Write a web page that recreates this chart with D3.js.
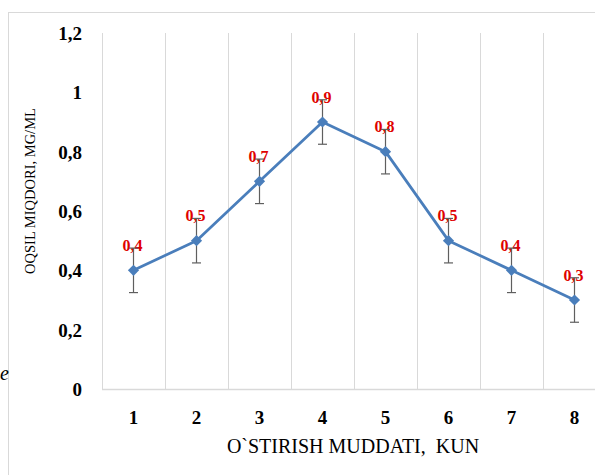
<!DOCTYPE html>
<html>
<head>
<meta charset="utf-8">
<script src="https://cdn.jsdelivr.net/npm/d3@7"></script>
<style>
  html, body { margin: 0; padding: 0; background: #fff; }
  svg { display: block; }
</style>
</head>
<body>
<svg id="chart" width="595" height="475"></svg>
<script>
// Protein content by cultivation day
const days = ["1", "2", "3", "4", "5", "6", "7", "8"];
const values = [0.4, 0.5, 0.7, 0.9, 0.8, 0.5, 0.4, 0.3];
const errors = [0.075, 0.075, 0.075, 0.075, 0.075, 0.075, 0.075, 0.075];
const yTicks = [0, 0.2, 0.4, 0.6, 0.8, 1, 1.2];
const yTickLabels = ["0", "0,2", "0,4", "0,6", "0,8", "1", "1,2"];
const valueLabels = ["0,4", "0,5", "0,7", "0,9", "0,8", "0,5", "0,4", "0,3"];
const xTitle = "O`STIRISH MUDDATI,  KUN";
const yTitle = "OQSIL MIQDORI, MG/ML";

const svg = d3.select("#chart");
const serif = "'Liberation Serif', 'Times New Roman', serif";

// Chart frame
svg.append("rect")
  .attr("x", 8.5).attr("y", 12.5)
  .attr("width", 620).attr("height", 500)
  .attr("fill", "none").attr("stroke", "#d9d9d9").attr("stroke-width", 1);

// Stray glyph at the left edge
svg.append("text")
  .attr("x", 0).attr("y", 380)
  .attr("font-family", serif).attr("font-style", "italic")
  .attr("font-size", 20).attr("fill", "#000")
  .text("e");

const plot = { left: 102, right: 606, top: 33, bottom: 389 };

const x = d3.scaleBand().domain(days).range([plot.left, plot.right]).paddingInner(0).paddingOuter(0);
const y = d3.scaleLinear().domain([0, 1.2]).range([plot.bottom, plot.top]);

// Vertical gridlines at category boundaries
const bounds = days.map(d => x(d)).concat([x(days[days.length - 1]) + x.bandwidth()]);
svg.append("g").selectAll("line").data(bounds).join("line")
  .attr("x1", d => Math.round(d) + 0.5).attr("x2", d => Math.round(d) + 0.5)
  .attr("y1", plot.top).attr("y2", plot.bottom)
  .attr("stroke", "#d9d9d9").attr("stroke-width", 1);

// Category axis line
svg.append("line")
  .attr("x1", plot.left).attr("x2", plot.right)
  .attr("y1", Math.round(y(0)) + 0.5).attr("y2", Math.round(y(0)) + 0.5)
  .attr("stroke", "#d9d9d9").attr("stroke-width", 1.5);

// Value axis labels
const yAxis = d3.axisLeft(y).tickValues(yTicks)
  .tickFormat((d, i) => yTickLabels[i]).tickSize(0).tickPadding(0);
const yg = svg.append("g").attr("transform", "translate(82,0)").call(yAxis);
yg.select(".domain").remove();
yg.selectAll("text")
  .attr("font-family", serif).attr("font-weight", "bold")
  .attr("font-size", 19).attr("fill", "#000").attr("dy", "0.35em");

// Category axis labels
const xAxis = d3.axisBottom(x).tickSize(0).tickPadding(0);
const xg = svg.append("g").attr("transform", "translate(0,410)").call(xAxis);
xg.select(".domain").remove();
xg.selectAll("text")
  .attr("font-family", serif).attr("font-weight", "bold")
  .attr("font-size", 19).attr("fill", "#000").attr("dy", "0.35em").attr("y", 7);

// Axis titles
svg.append("text")
  .attr("x", 353).attr("y", 446).attr("dy", "0.35em")
  .attr("text-anchor", "middle")
  .attr("font-family", serif).attr("font-size", 20).attr("fill", "#000")
  .attr("xml:space", "preserve")
  .style("white-space", "pre")
  .text(xTitle);

svg.append("text")
  .attr("transform", "translate(30,191) rotate(-90)")
  .attr("dy", "0.35em")
  .attr("text-anchor", "middle")
  .attr("font-family", serif).attr("font-size", 14.5).attr("fill", "#000")
  .text(yTitle);

const cx = d => x(d) + x.bandwidth() / 2;
const pts = days.map((d, i) => ({ d, v: values[i], e: errors[i], label: valueLabels[i] }));

// Data labels
svg.append("g").selectAll("text").data(pts).join("text")
  .attr("x", p => cx(p.d) - 1).attr("y", p => y(p.v) - 25).attr("dy", "0.35em")
  .attr("text-anchor", "middle")
  .attr("font-family", serif).attr("font-weight", "bold")
  .attr("font-size", 16).attr("fill", "#e00000")
  .text(p => p.label);

// Line
svg.append("path").datum(pts)
  .attr("d", d3.line().x(p => cx(p.d)).y(p => y(p.v)))
  .attr("fill", "none").attr("stroke", "#4a7ebb").attr("stroke-width", 2.75)
  .attr("stroke-linejoin", "round");

// Error bars
const eb = svg.append("g").attr("stroke", "#5f5f5f").attr("stroke-width", 1.2);
eb.selectAll("line.stem").data(pts).join("line").attr("class", "stem")
  .attr("x1", p => cx(p.d)).attr("x2", p => cx(p.d))
  .attr("y1", p => y(p.v + p.e)).attr("y2", p => y(p.v - p.e));
eb.selectAll("line.capT").data(pts).join("line").attr("class", "capT")
  .attr("x1", p => cx(p.d) - 4.5).attr("x2", p => cx(p.d) + 4.5)
  .attr("y1", p => y(p.v + p.e)).attr("y2", p => y(p.v + p.e));
eb.selectAll("line.capB").data(pts).join("line").attr("class", "capB")
  .attr("x1", p => cx(p.d) - 4.5).attr("x2", p => cx(p.d) + 4.5)
  .attr("y1", p => y(p.v - p.e)).attr("y2", p => y(p.v - p.e));

// Diamond markers
svg.append("g").selectAll("path").data(pts).join("path")
  .attr("transform", p => `translate(${cx(p.d)},${y(p.v)})`)
  .attr("d", d3.symbol().type(d3.symbolDiamond2).size(80))
  .attr("fill", "#4a7ebb");
</script>
</body>
</html>
